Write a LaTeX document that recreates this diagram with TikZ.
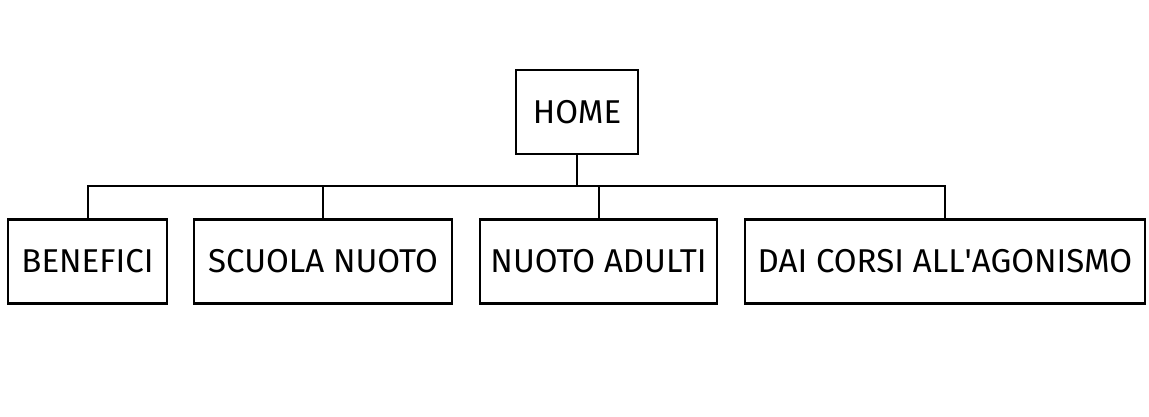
\documentclass[tikz,border=0pt]{standalone}
\usepackage{fontspec}
\setmainfont{Fira Sans}
\usetikzlibrary{positioning}

\begin{document}
\begin{tikzpicture}[x=1pt,y=-1pt,
	page/.style={draw=black, line width=2.4pt, inner sep=0pt, minimum height=84pt,
		font=\fontsize{33}{36}\selectfont},
	link/.style={draw=black, line width=2pt}]
	\useasboundingbox (0,0) rectangle (1149,416);
	
	\node[page, minimum width=122pt] (home) at (577,112) {HOME};
	
	\node[page, minimum width=159pt] (benefici) at (87.5,261.5) {BENEFICI};
	\node[page, minimum width=258pt] (scuola) at (323,261.5) {SCUOLA NUOTO};
	\node[page, minimum width=237pt] (adulti) at (598.5,261.5) {NUOTO ADULTI};
	\node[page, minimum width=400pt] (agonismo) at (945,261.5) {DAI CORSI ALL\textquotesingle AGONISMO};
	
	\coordinate (bus) at (577,186);
	\draw[link] (home.south) -- (bus);
	\foreach \child in {benefici,scuola,adulti,agonismo}
		\draw[link] (bus) -| (\child.north);
\end{tikzpicture}
\end{document}
